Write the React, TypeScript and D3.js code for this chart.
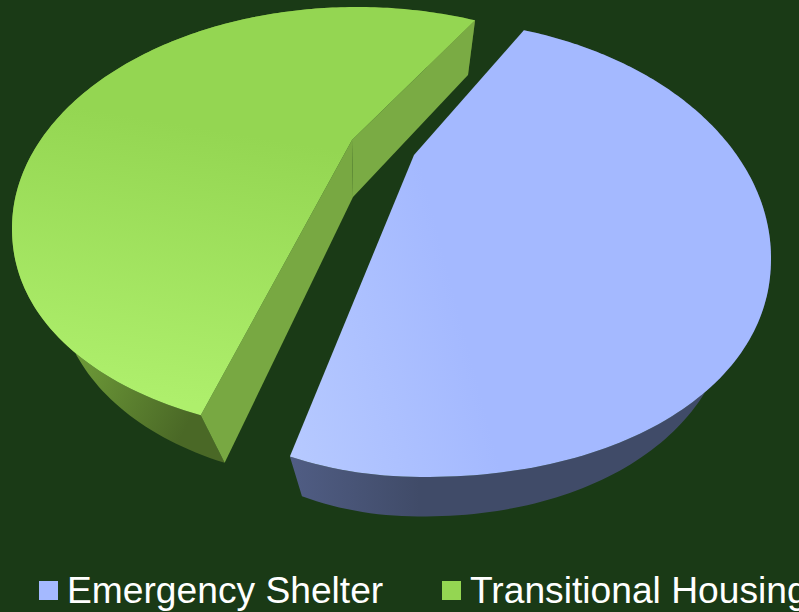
import React from "react";
import * as d3 from "d3";

const categories = ["Emergency Shelter", "Transitional Housing"];
const shares = [46.6, 53.4];
const topColors = ["#a4b9ff", "#94d652"];
const background = "#1a3a16";

const W = 799, H = 612;
const deg = Math.PI / 180;

// projection of each slice's flat disc: an egg-shaped outline with a perspective shift of its centre
const views = [
  { cx: 423, cy: 258, a: 348, bTop: 238, bBot: 219, nBot: 2.1, dip: 42, p: 0.433, ax: -9, rot: 0, sx: 0.89, sy: 0.98, tx: 44, ty: 49, apexDrop: [2, 49] },
  { cx: 357, cy: 228, a: 345, bTop: 221, bBot: 207, nBot: 2.1, dip: 0, p: 0.398, ax: -5, rot: 3.6 * deg, sx: 0.887, sy: 0.982, tx: 46.6, ty: 55, apexDrop: [1, 57] },
];

function project(v: any, angle: number) {
  const U = Math.sin(angle + v.rot), V = -Math.cos(angle + v.rot);
  const w = 1 - v.p * V;
  const k = Math.sqrt(1 - v.p * v.p);
  const yn = (V - v.p) / w;
  const xn = (U * k) / w;
  const ax = Math.min(1, Math.abs(xn));
  const y = yn < 0
    ? -v.bTop * Math.sqrt(1 - ax * ax)
    : v.bBot * Math.pow(1 - Math.pow(ax, v.nBot), 1 / v.nBot) - (xn < 0 ? v.dip * xn * xn : 0);
  return [v.cx + v.a * xn, v.cy + y] as [number, number];
}
const apexOf = (v: any) => [v.cx + v.ax, v.cy - v.p * v.bTop] as [number, number];
const drop = (v: any, q: [number, number]) => [v.sx * q[0] + v.tx, v.sy * q[1] + v.ty] as [number, number];

const pie = d3.pie<number>().sort(null).startAngle(26.5 * deg).endAngle(386.5 * deg);
const arcs = pie(shares);
const line = d3.line().curve(d3.curveLinearClosed);

function rim(v: any, a0: number, a1: number) {
  return d3.range(0, 181).map((i) => project(v, a0 + ((a1 - a0) * i) / 180));
}

export default function App() {
  const slices = arcs.map((arc, i) => {
    const v = views[i];
    return { v, r: rim(v, arc.startAngle, arc.endAngle), apex: apexOf(v) };
  });
  const [blue, green] = slices;
  const greenFirst = green.r[0], greenLast = green.r[green.r.length - 1];
  const greenApexLow = [green.apex[0] + green.v.apexDrop[0], green.apex[1] + green.v.apexDrop[1]] as [number, number];
  const wall = (s: any) => line([...s.r, ...s.r.map((q: any) => drop(s.v, q)).reverse()]) as string;
  const top = (s: any) => line([s.apex, ...s.r]) as string;
  const x = d3.scalePoint<string>().domain(categories).range([39, 442]);
  return (
    <svg width={W} height={H} style={{ position: "fixed", left: 0, top: 0, display: "block" }}>
      <defs>
        <linearGradient id="blueTop" gradientUnits="userSpaceOnUse" x1="290" y1="440" x2="480" y2="390">
          <stop offset="0" stopColor="#b6c9ff" />
          <stop offset="1" stopColor={topColors[0]} />
        </linearGradient>
        <linearGradient id="greenTop" gradientUnits="userSpaceOnUse" x1="170" y1="400" x2="215" y2="130">
          <stop offset="0" stopColor="#aeef6c" />
          <stop offset="1" stopColor={topColors[1]} />
        </linearGradient>
        <linearGradient id="blueWall" gradientUnits="userSpaceOnUse" x1="290" y1="0" x2="420" y2="0">
          <stop offset="0" stopColor="#505d84" />
          <stop offset="1" stopColor="#404b68" />
        </linearGradient>
        <linearGradient id="greenWall" gradientUnits="userSpaceOnUse" x1="70" y1="360" x2="190" y2="420">
          <stop offset="0" stopColor="#6f9c39" />
          <stop offset="1" stopColor="#4a6826" />
        </linearGradient>
      </defs>
      <rect width={W} height={H} fill={background} />
      <path d={wall(blue)} fill="url(#blueWall)" />
      <path d={wall(green)} fill="url(#greenWall)" />
      <path d={line([green.apex, greenFirst, drop(green.v, greenFirst), greenApexLow]) as string} fill="#78a842" />
      <path d={line([green.apex, greenLast, drop(green.v, greenLast), greenApexLow]) as string} fill="#7aab44" />
      <path d={top(blue)} fill="url(#blueTop)" />
      <path d={top(green)} fill="url(#greenTop)" />
      {categories.map((c, i) => (
        <g key={c}>
          <rect x={x(c)} y={581} width={19} height={19} fill={topColors[i]} />
          <text x={(x(c) as number) + 28} y={603} fontFamily="'Liberation Sans'" fontSize={37.2} fill="#ffffff">{c}</text>
        </g>
      ))}
    </svg>
  );
}
